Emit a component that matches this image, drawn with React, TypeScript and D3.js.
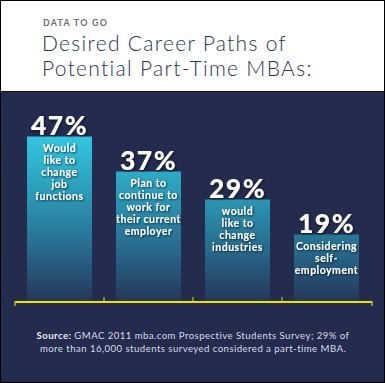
import React from "react";
import * as d3 from "d3";

const categories = ["jobFunctions", "currentEmployer", "industries", "selfEmployment"];
const values = [47, 37, 29, 19];
const labels = [
  ["Would", "like to", "change", "job", "functions"],
  ["Plan to", "continue to", "work for", "their current", "employer"],
  ["would", "like to", "change", "industries"],
  ["Considering", "self-", "employment"],
];
const kicker = "DATA TO GO";
const titleLines = ["Desired Career Paths of", "Potential Part-Time MBAs:"];
const sourceLines = [
  ["Source:", " GMAC 2011 mba.com Prospective Students Survey; 29% of"],
  ["", "more than 16,000 students surveyed considered a part-time MBA."],
];

const W = 385;
const H = 383;
const NAVY = "#232b4e";

export default function App() {
  const x = d3.scaleBand<string>().domain(categories).range([15, 371]).paddingInner(0.27).paddingOuter(0.135);
  const y = d3.scaleLinear().domain([0, 50]).range([301, 126]);
  const step = x.step();
  const gap = step * 0.27;
  const tickXs = categories.slice(1).map((c) => (x(c) as number) - gap / 2);
  const axisY = 302;

  return (
    <svg width={W} height={H} style={{ position: "absolute", left: 0, top: 0 }} fontFamily="Lato, 'Open Sans', sans-serif">
      <defs>
        <linearGradient id="barGrad" gradientUnits="userSpaceOnUse" x1="0" y1={y(47)} x2="0" y2={y(0)}>
          <stop offset="0" stopColor="#33c6e0" />
          <stop offset="0.38" stopColor="#2b96b3" />
          <stop offset="0.69" stopColor="#28698b" />
          <stop offset="1" stopColor="#24375a" />
        </linearGradient>
        <filter id="shadow" x="-20%" y="-20%" width="140%" height="140%">
          <feDropShadow dx="1" dy="1" stdDeviation="0.8" floodColor="#0b1024" floodOpacity="0.8" />
        </filter>
      </defs>
      <rect x={0} y={0} width={W} height={H} fill="#ffffff" />
      <rect x={0} y={92} width={W} height={H - 92} fill={NAVY} />
      <line x1={0} x2={W} y1={91.5} y2={91.5} stroke="#111" strokeWidth={1} />
      <rect x={0.5} y={0.5} width={W - 1} height={H - 1} fill="none" stroke="#000" strokeWidth={1} />

      <text x={43} y={26} fontSize={8.8} fill="#6b6e78" letterSpacing={1.3} fontWeight={700}>
        {kicker}
      </text>
      {titleLines.map((t, i) => (
        <text key={i} x={42} y={50.7 + i * 25.5} fontSize={21} fill="#2a3358" fontWeight={300} letterSpacing={1.3}>
          {t}
        </text>
      ))}

      {categories.map((c, i) => {
        const bx = x(c) as number;
        const bw = x.bandwidth();
        const top = y(values[i]);
        const cx = bx + bw / 2;
        return (
          <g key={c}>
            <rect x={bx} y={top} width={bw} height={y(0) - top} fill="url(#barGrad)" />
            <text x={cx} y={top - 2} textAnchor="middle" fontSize={26.5} fontWeight={900} fill="#ffffff" letterSpacing={1.5} filter="url(#shadow)">
              {values[i] + "%"}
            </text>
            {labels[i].map((l, j) => (
              <text key={j} x={cx} y={top + 15.5 + j * 11.9} textAnchor="middle" fontSize={10.5} fontWeight={700} fill="#ffffff" letterSpacing={0.5} filter="url(#shadow)">
                {l}
              </text>
            ))}
          </g>
        );
      })}

      <line x1={15} x2={372} y1={axisY} y2={axisY} stroke="#f2e400" strokeWidth={2} />
      {tickXs.map((tx, i) => (
        <line key={i} x1={tx} x2={tx} y1={axisY - 5} y2={axisY} stroke="#e6dc20" strokeWidth={1} />
      ))}
      <line x1={15} x2={15} y1={axisY - 1} y2={axisY + 4} stroke="#b8ad3a" strokeWidth={1.5} />
      <line x1={372} x2={372} y1={axisY - 1} y2={axisY + 4} stroke="#b8ad3a" strokeWidth={1.5} />

      {sourceLines.map((ln, i) => (
        <text key={i} x={193} y={339.3 + i * 13} textAnchor="middle" fontSize={9.6} fill="#d9dce6" letterSpacing={0.45}>
          {ln[0] && <tspan fontWeight={700} fill="#e8eaf0">{ln[0]}</tspan>}
          <tspan>{ln[1]}</tspan>
        </text>
      ))}
    </svg>
  );
}
